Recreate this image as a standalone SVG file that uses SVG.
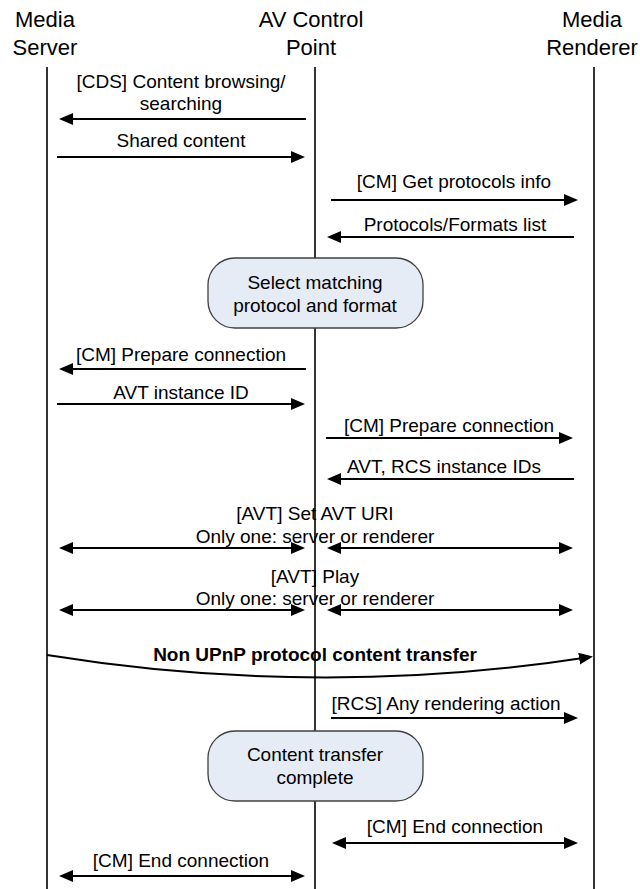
<svg xmlns="http://www.w3.org/2000/svg" width="640" height="889" viewBox="0 0 640 889">
<style>
text{font-family:"Liberation Sans",Arial,sans-serif;fill:#000;text-anchor:middle}
.hd{font-size:22px}
.m{font-size:19px}
.b{font-size:19px;font-weight:bold}
.life{stroke:#000;stroke-width:1.6;fill:none}
.msg{stroke:#000;stroke-width:2;fill:none;marker-end:url(#ah)}
.dbl{stroke:#000;stroke-width:2;fill:none;marker-start:url(#ah);marker-end:url(#ah)}
.box{fill:#e6ecf6;stroke:#404040;stroke-width:1.3}
</style>
<defs>
<marker id="ah" viewBox="0 0 14 12" refX="11" refY="6" markerWidth="14" markerHeight="12" markerUnits="userSpaceOnUse" orient="auto-start-reverse">
<path d="M0,0 L14,6 L0,12 z" fill="#000"/>
</marker>
</defs>
<rect width="640" height="889" fill="#fff"/>
<g id="media-server">
<text class="hd" x="45" y="27">Media</text>
<text class="hd" x="45" y="55">Server</text>
<line class="life" x1="47" y1="67" x2="47" y2="889"/>
</g>
<g id="av-control-point">
<text class="hd" x="311" y="27">AV Control</text>
<text class="hd" x="311" y="55">Point</text>
<line class="life" x1="315" y1="67" x2="315" y2="889"/>
</g>
<g id="media-renderer">
<text class="hd" x="592" y="27">Media</text>
<text class="hd" x="592" y="55">Renderer</text>
<line class="life" x1="594" y1="67" x2="594" y2="889"/>
</g>
<g id="select-box">
<rect class="box" x="208" y="258" width="215" height="70" rx="27"/>
<text class="m" x="315" y="289">Select matching</text>
<text class="m" x="315" y="312">protocol and format</text>
</g>
<g id="complete-box">
<rect class="box" x="208" y="731" width="215" height="70" rx="27"/>
<text class="m" x="315" y="761">Content transfer</text>
<text class="m" x="315" y="784">complete</text>
</g>
<g id="connectors">
<path class="msg" d="M306,119 H62"/>
<path class="msg" d="M57,157 H302"/>
<path class="msg" d="M331,200 H575"/>
<path class="msg" d="M574,237 H330"/>
<path class="msg" d="M306,369 H62"/>
<path class="msg" d="M57,404 H302"/>
<path class="msg" d="M326,438 H570"/>
<path class="msg" d="M574,479 H330"/>
<path class="dbl" d="M62,548 H302"/>
<path class="dbl" d="M330,548 H570"/>
<path class="dbl" d="M62,610 H302"/>
<path class="dbl" d="M330,610 H570"/>
<path class="msg" d="M47,655 Q320,699 590,657"/>
<path class="msg" d="M331,718 H575"/>
<path class="dbl" d="M335,843 H575"/>
<path class="dbl" d="M62,876 H302"/>
</g>
<g id="labels">
<text class="m" x="181" y="88">[CDS] Content browsing/</text>
<text class="m" x="181" y="110">searching</text>
<text class="m" x="181" y="147">Shared content</text>
<text class="m" x="454" y="188">[CM] Get protocols info</text>
<text class="m" x="455" y="231">Protocols/Formats list</text>
<text class="m" x="181" y="361">[CM] Prepare connection</text>
<text class="m" x="181" y="399">AVT instance ID</text>
<text class="m" x="449" y="432">[CM] Prepare connection</text>
<text class="m" x="444" y="473">AVT, RCS instance IDs</text>
<text class="m" x="315" y="520">[AVT] Set AVT URI</text>
<text class="m" x="315" y="543">Only one: server or renderer</text>
<text class="m" x="315" y="583">[AVT] Play</text>
<text class="m" x="315" y="605">Only one: server or renderer</text>
<text class="b" x="315" y="661">Non UPnP protocol content transfer</text>
<text class="m" x="446" y="710">[RCS] Any rendering action</text>
<text class="m" x="455" y="833">[CM] End connection</text>
<text class="m" x="181" y="867">[CM] End connection</text>
</g>
</svg>
